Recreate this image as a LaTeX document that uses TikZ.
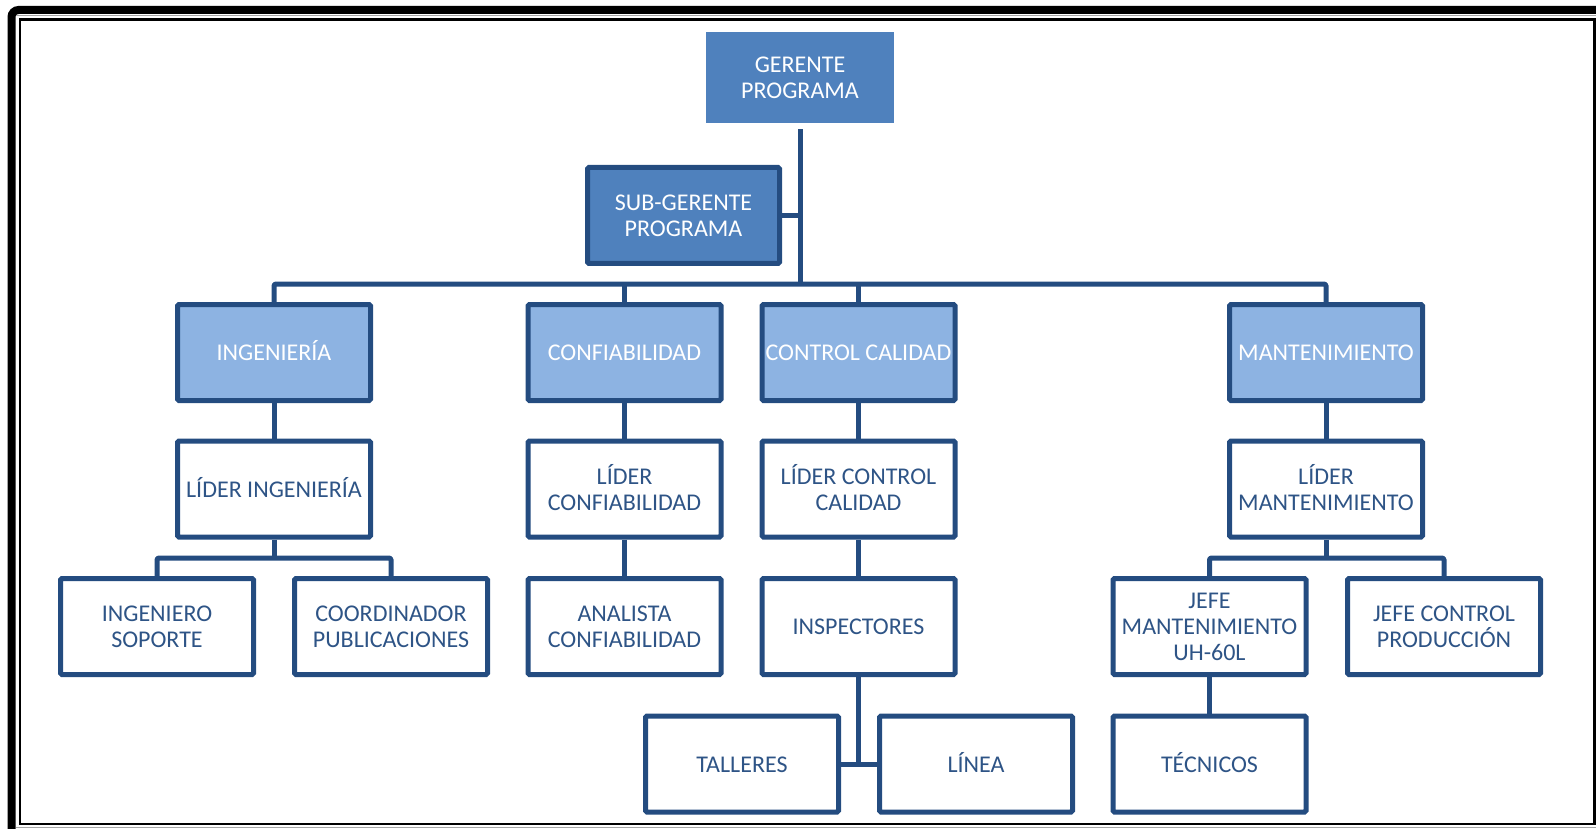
\documentclass[tikz,border=0pt]{standalone}
\usepackage{fontspec}
\setmainfont{Carlito}
\definecolor{linkblue}{RGB}{36,76,128}
\definecolor{topfill}{RGB}{79,129,189}
\definecolor{deptfill}{RGB}{141,179,226}
\definecolor{labelblue}{RGB}{46,84,134}
% fixed line strut so accented capitals do not shift the centring
\newcommand{\linestrut}{\rule[-5pt]{0pt}{26pt}}
\begin{document}
\begin{tikzpicture}[x=1pt,y=-1pt,
  every node/.style={font=\fontsize{24}{26}\selectfont, align=center, inner sep=0pt,
    execute at begin node=\linestrut, execute at end node=\linestrut},
  basebox/.style={rectangle, minimum width=193pt, minimum height=96pt,
    draw=linkblue, line width=5pt, rounded corners=1.5pt},
  headbox/.style={rectangle, fill=topfill, text=white, minimum width=188pt, minimum height=91pt},
  subbox/.style={basebox, fill=topfill, text=white, minimum width=192pt},
  deptbox/.style={basebox, fill=deptfill, text=white},
  rolebox/.style={basebox, fill=white, text=labelblue},
  link/.style={draw=linkblue, line width=5pt, line join=round, rounded corners=1.5pt}]
\useasboundingbox (0,0) rectangle (1596,829);

% page frame: heavy border on the left and top, thin inner rule
\draw[line width=8pt, rounded corners=7pt] (11.5,835) -- (11.5,10) -- (1600,10);
\draw[gray!70, line width=1.2pt] (16,15.5) -- (1596,15.5);
\draw[gray!70, line width=1.2pt] (16,827.5) -- (1596,827.5);
\draw[line width=2.5pt] (20,19.5) rectangle (1594.5,824);

% management
\node[headbox] (ger) at (800,77.5) {\linestrut GERENTE\\PROGRAMA};
\node[subbox] (sub) at (683.5,215.5) {\linestrut SUB-GERENTE\\PROGRAMA};

% departments
\node[deptbox] (ing)  at (274,352.5)  {INGENIERÍA};
\node[deptbox] (conf) at (624.5,352.5) {CONFIABILIDAD};
\node[deptbox] (cc)   at (858.5,352.5) {CONTROL CALIDAD};
\node[deptbox] (mant) at (1326,352.5) {MANTENIMIENTO};

% leaders
\node[rolebox] (ling)  at (274,489)   {LÍDER INGENIERÍA};
\node[rolebox] (lconf) at (624.5,489) {\linestrut LÍDER\\CONFIABILIDAD};
\node[rolebox] (lcc)   at (858.5,489) {\linestrut LÍDER CONTROL\\CALIDAD};
\node[rolebox] (lmant) at (1326,489)  {\linestrut LÍDER\\MANTENIMIENTO};

% staff
\node[rolebox] (isop)  at (157,626.5)   {\linestrut INGENIERO\\SOPORTE};
\node[rolebox] (coord) at (391,626.5)   {\linestrut COORDINADOR\\PUBLICACIONES};
\node[rolebox] (anal)  at (624.5,626.5) {\linestrut ANALISTA\\CONFIABILIDAD};
\node[rolebox] (insp)  at (858.5,626.5) {INSPECTORES};
\node[rolebox] (jmant) at (1209.5,626.5) {\linestrut JEFE\\MANTENIMIENTO\\UH-60L};
\node[rolebox] (jctrl) at (1444,626.5)  {\linestrut JEFE CONTROL\\PRODUCCIÓN};

% bottom level
\node[rolebox] (tall) at (742,764)    {TALLERES};
\node[rolebox] (lin)  at (976,764)    {LÍNEA};
\node[rolebox] (tec)  at (1209.5,764) {TÉCNICOS};

% junction points
\coordinate (bus) at (800,284);
\coordinate (engbus) at (274,558);
\coordinate (mntbus) at (1326,558);

% connectors
\draw[link] ([yshift=-6pt]ger.south) -- (bus);
\draw[link] (sub.east) -- (sub.east -| bus);
\draw[link] (ing.north) |- (mant.north |- bus) -- (mant.north);
\draw[link] (conf.north) -- (conf.north |- bus);
\draw[link] (cc.north) -- (cc.north |- bus);

\draw[link] (ing.south) -- (ling.north);
\draw[link] (conf.south) -- (lconf.north);
\draw[link] (cc.south) -- (lcc.north);
\draw[link] (mant.south) -- (lmant.north);

\draw[link] (ling.south) -- (engbus);
\draw[link] (isop.north) |- (engbus) -| (coord.north);
\draw[link] (lconf.south) -- (anal.north);
\draw[link] (lcc.south) -- (insp.north);
\draw[link] (lmant.south) -- (mntbus);
\draw[link] (jmant.north) |- (mntbus) -| (jctrl.north);

\draw[link] (insp.south) -- (insp.south |- tall.east);
\draw[link] (tall.east) -- (lin.west);
\draw[link] (jmant.south) -- (tec.north);
\end{tikzpicture}
\end{document}
